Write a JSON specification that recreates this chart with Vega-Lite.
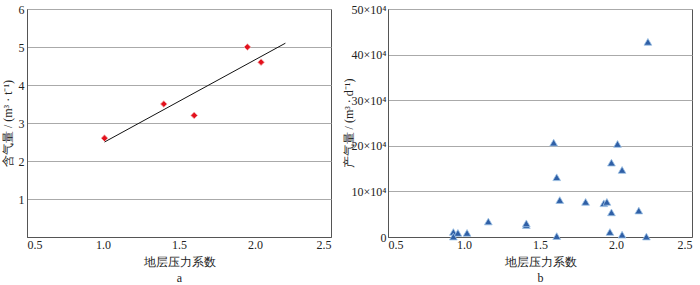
{
  "$schema": "https://vega.github.io/schema/vega-lite/v6.json",
  "padding": {"left": 0, "top": 2, "right": 0, "bottom": 0},
  "background": "white",
  "spacing": 9,
  "config": {
    "font": "Liberation Serif",
    "view": {"stroke": "#555", "strokeWidth": 1},
    "axis": {
      "labelFont": "Liberation Serif",
      "titleFont": "Liberation Serif",
      "labelFontSize": 12,
      "titleFontSize": 12,
      "labelColor": "#222",
      "titleColor": "#222",
      "titleFontWeight": "normal",
      "ticks": false,
      "domainColor": "#555",
      "gridColor": "#aaa",
      "gridWidth": 1.2
    }
  },
  "datasets": {
    "gas": [
      {"k": 1.01, "v": 2.6},
      {"k": 1.40, "v": 3.5},
      {"k": 1.60, "v": 3.2},
      {"k": 1.95, "v": 5.0},
      {"k": 2.04, "v": 4.6}
    ],
    "fit": [
      {"k": 1.01, "v": 2.5},
      {"k": 2.20, "v": 5.1}
    ],
    "prod": [
      {"k": 2.21, "v": 42.8},
      {"k": 1.59, "v": 20.7},
      {"k": 2.01, "v": 20.4},
      {"k": 1.97, "v": 16.3},
      {"k": 2.04, "v": 14.7},
      {"k": 1.61, "v": 13.1},
      {"k": 1.63, "v": 8.1},
      {"k": 1.80, "v": 7.7},
      {"k": 1.92, "v": 7.4},
      {"k": 1.94, "v": 7.7},
      {"k": 1.97, "v": 5.4},
      {"k": 2.15, "v": 5.8},
      {"k": 1.16, "v": 3.4},
      {"k": 1.41, "v": 2.6},
      {"k": 1.41, "v": 3.0},
      {"k": 0.93, "v": 1.1},
      {"k": 0.96, "v": 0.9},
      {"k": 1.02, "v": 0.9},
      {"k": 0.93, "v": 0.1},
      {"k": 1.61, "v": 0.2},
      {"k": 1.96, "v": 1.1},
      {"k": 2.04, "v": 0.5},
      {"k": 2.20, "v": 0.1}
    ]
  },
  "hconcat": [
    {
      "width": 304,
      "height": 228,
      "layer": [
        {
          "data": {"name": "fit"},
          "mark": {"type": "line", "color": "#111", "strokeWidth": 1},
          "encoding": {
            "x": {"field": "k", "type": "quantitative"},
            "y": {"field": "v", "type": "quantitative"}
          }
        },
        {
          "data": {"name": "gas"},
          "mark": {"type": "point", "shape": "diamond", "filled": true, "fill": "#e3101c", "stroke": "#f3b5b5", "strokeWidth": 0.8, "size": 45, "opacity": 1},
          "encoding": {
            "x": {
              "field": "k", "type": "quantitative",
              "scale": {"domain": [0.5, 2.5], "nice": false},
              "axis": {"values": [0.5, 1.0, 1.5, 2.0, 2.5], "format": ".1f", "grid": false, "labelPadding": 2, "title": ["地层压力系数", "a"], "titlePadding": 6, "titleLineHeight": 16}
            },
            "y": {
              "field": "v", "type": "quantitative",
              "scale": {"domain": [1, 6], "nice": false},
              "axis": {"values": [1, 2, 3, 4, 5, 6], "grid": true, "labelPadding": 3, "title": "含气量 / (m³ · t⁻¹)", "titlePadding": 4}
            }
          }
        }
      ]
    },
    {
      "width": 304,
      "height": 228,
      "data": {"name": "prod"},
      "mark": {"type": "point", "shape": "triangle-up", "filled": true, "fill": "#2f5fa6", "stroke": "#9ec3e6", "strokeWidth": 0.8, "size": 60, "opacity": 1},
      "encoding": {
        "x": {
          "field": "k", "type": "quantitative",
          "scale": {"domain": [0.5, 2.5], "nice": false},
          "axis": {"values": [0.5, 1.0, 1.5, 2.0, 2.5], "format": ".1f", "grid": false, "labelPadding": 2, "title": ["地层压力系数", "b"], "titlePadding": 6, "titleLineHeight": 16}
        },
        "y": {
          "field": "v", "type": "quantitative",
          "scale": {"domain": [0, 50], "nice": false},
          "axis": {"values": [0, 10, 20, 30, 40, 50], "grid": true, "labelPadding": 2, "labelExpr": "datum.value == 0 ? '0' : datum.value + '×10⁴'", "title": "产气量 / (m³ · d⁻¹)", "titlePadding": -4}
        }
      }
    }
  ]
}
